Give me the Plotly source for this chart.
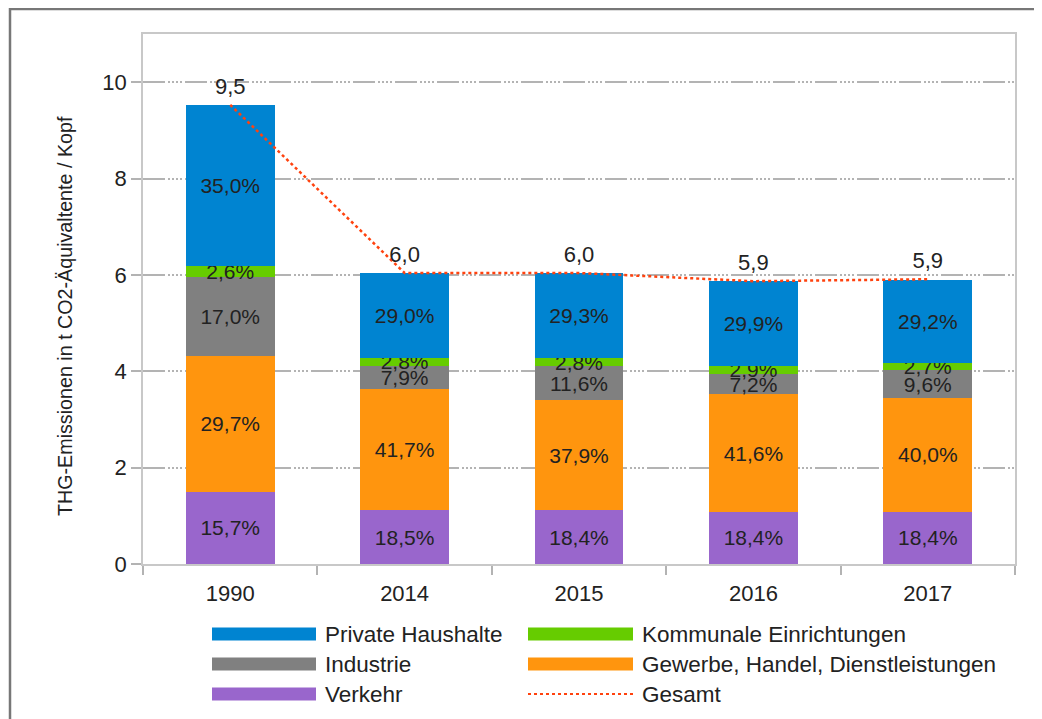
import plotly.graph_objects as go

# ---------------- data ----------------
years = ["1990", "2014", "2015", "2016", "2017"]
totals = [9.53, 6.04, 6.04, 5.87, 5.91]          # t CO2-Äq. / Kopf (Gesamt)

share_verkehr = [15.7, 18.5, 18.4, 18.4, 18.4]
share_gewerbe = [29.7, 41.7, 37.9, 41.6, 40.0]
share_industrie = [17.0, 7.9, 11.6, 7.2, 9.6]
share_kommunal = [2.6, 2.8, 2.8, 2.9, 2.7]
share_private = [35.0, 29.0, 29.3, 29.9, 29.2]

series_names = ["Verkehr", "Gewerbe, Handel, Dienstleistungen", "Industrie",
                "Kommunale Einrichtungen", "Private Haushalte"]
series_shares = [share_verkehr, share_gewerbe, share_industrie, share_kommunal, share_private]
series_colors = ["#9966cc", "#ff950e", "#808080", "#66cc00", "#0084d1"]
total_name = "Gesamt"
line_color = "#ff420e"

y_title = "THG-Emissionen in t CO2-Äquivaltente / Kopf"

# ---------------- layout geometry (reference pixels) ----------------
OFF = 8                      # page body margin of the browser
W, H = 1042 - OFF, 719 - OFF
L, R, T, B = 143, 1015, 34, 564
FONT = "Liberation Sans, Arial, sans-serif"
TXT = "#222222"


def px_x(p):
    return (p - L) / (R - L)


def px_y(p):
    return (B - p) / (B - T)


fig = go.Figure()

for name, shares, col in zip(series_names, series_shares, series_colors):
    vals = [t * s / 100.0 for t, s in zip(totals, shares)]
    fig.add_trace(go.Bar(
        x=years, y=vals, name=name, customdata=shares,
        marker=dict(color=col, line=dict(width=0)),
        texttemplate="%{customdata:.1f}%", textposition="inside",
        insidetextanchor="middle", textangle=0,
        textfont=dict(family=FONT, size=21, color=TXT),
        showlegend=False,
    ))

fig.add_trace(go.Scatter(
    x=years, y=totals, name=total_name, mode="lines+markers+text",
    line=dict(color=line_color, width=2.5, dash="dot"),
    marker=dict(size=7, opacity=0),
    texttemplate="%{y:.1f}", textposition="top center",
    textfont=dict(family=FONT, size=22, color=TXT),
    showlegend=False, cliponaxis=False,
))

grid_dash = "22px,3px,2px,2px,2px,2px,2px,2px,2px,3px"

fig.update_layout(
    width=W, height=H,
    margin=dict(l=L - OFF, r=1042 - R, t=T - OFF, b=719 - B, pad=0),
    barmode="stack", bargap=0.49,
    separators=",.",
    paper_bgcolor="white", plot_bgcolor="white",
    font=dict(family=FONT, size=21, color=TXT),
    uniformtext=dict(minsize=21, mode="show"),
    showlegend=False,
    xaxis=dict(
        type="category", tickson="boundaries", ticks="outside", ticklen=9,
        tickcolor="#b3b3b3", tickwidth=1.5, showgrid=False,
        showline=True, linecolor="#c8c8c8", linewidth=1.5, mirror=True,
        ticklabelstandoff=9,
        tickfont=dict(family=FONT, size=22, color=TXT),
    ),
    yaxis=dict(
        range=[0, 11], tickvals=[0, 2, 4, 6, 8, 10], ticks="outside", ticklen=10,
        tickcolor="#b3b3b3", tickwidth=1.5,
        showgrid=True, gridcolor="#b3b3b3", gridwidth=2, griddash=grid_dash,
        zeroline=False,
        showline=True, linecolor="#c8c8c8", linewidth=1.5, mirror=True,
        tickfont=dict(family=FONT, size=22, color=TXT),
    ),
)

shapes = []
annotations = []

# outer frame (cut off on right / bottom like the reference)
shapes.append(dict(type="rect", xref="paper", yref="paper",
                   x0=px_x(10), x1=px_x(1042 + 10), y0=px_y(719 + 10), y1=px_y(9),
                   line=dict(color="#777777", width=2.5), fillcolor="rgba(0,0,0,0)",
                   layer="below"))

# y-axis title
annotations.append(dict(text=y_title, xref="paper", yref="paper",
                        x=px_x(65), y=px_y(316), textangle=-90, showarrow=False,
                        xanchor="center", yanchor="middle",
                        font=dict(family=FONT, size=19.7, color=TXT)))

# manual legend
legend_entries = [
    ("Private Haushalte", "#0084d1", "bar"),
    ("Kommunale Einrichtungen", "#66cc00", "bar"),
    ("Industrie", "#808080", "bar"),
    ("Gewerbe, Handel, Dienstleistungen", "#ff950e", "bar"),
    ("Verkehr", "#9966cc", "bar"),
    (total_name, line_color, "line"),
]
col_x = [(212, 316, 323), (528, 633, 640)]
row_y = [634, 664, 694]
for i, (lab, col, kind) in enumerate(legend_entries):
    cx0, cx1, tx = col_x[i % 2]
    cy = row_y[i // 2]
    if kind == "bar":
        shapes.append(dict(type="rect", xref="paper", yref="paper",
                           x0=px_x(cx0), x1=px_x(cx1), y0=px_y(cy + 6.5), y1=px_y(cy - 6.5),
                           fillcolor=col, line=dict(width=0)))
    else:
        shapes.append(dict(type="line", xref="paper", yref="paper",
                           x0=px_x(cx0), x1=px_x(cx1), y0=px_y(cy), y1=px_y(cy),
                           line=dict(color=col, width=2, dash="dot")))
    annotations.append(dict(text=lab, xref="paper", yref="paper", x=px_x(tx), y=px_y(cy),
                            xanchor="left", yanchor="middle", showarrow=False,
                            font=dict(family=FONT, size=22.5, color=TXT)))

fig.update_layout(shapes=shapes, annotations=annotations)

fig.write_html("out.html")
